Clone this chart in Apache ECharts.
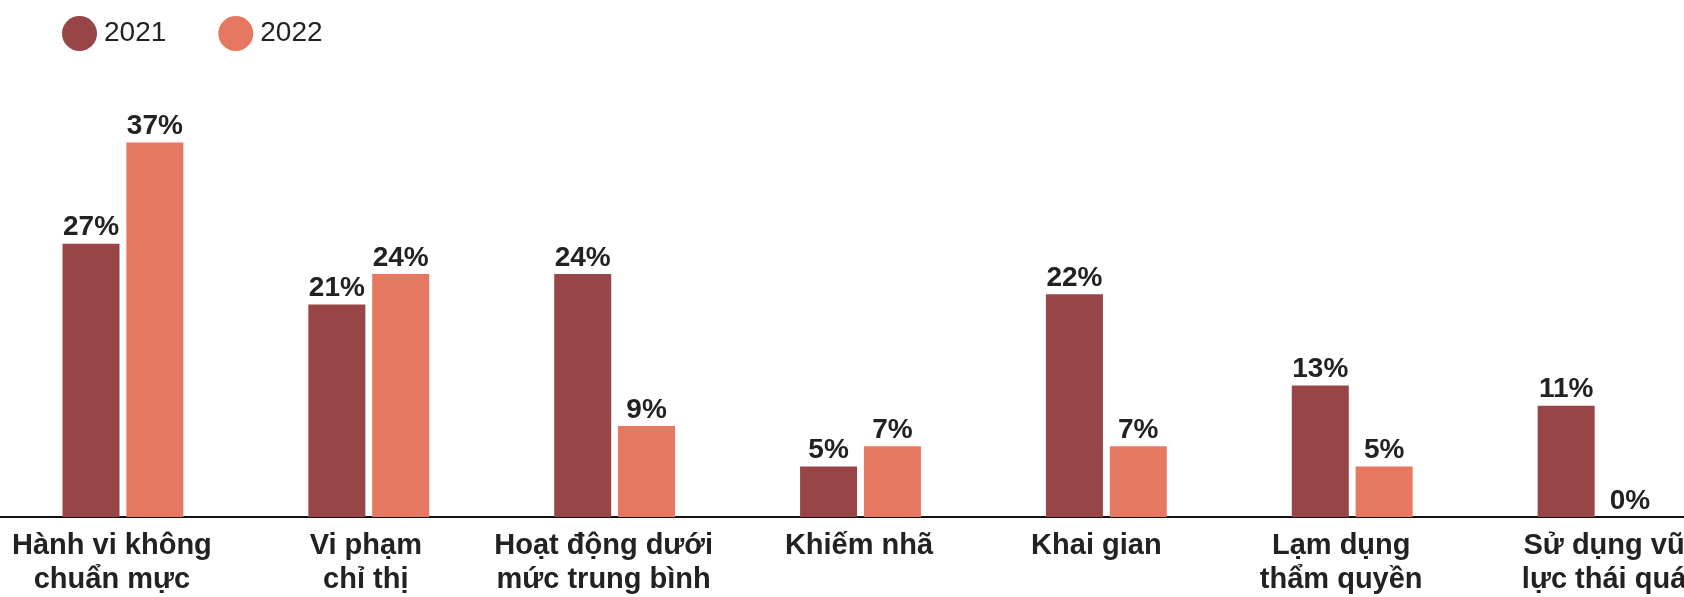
<!DOCTYPE html>
<html>
<head>
<meta charset="utf-8">
<script src="https://cdn.jsdelivr.net/npm/echarts@6/dist/echarts.min.js"></script>
<style>
html,body{margin:0;padding:0;background:#fff;overflow:hidden;}
#chart{width:1730px;height:597px;}
</style>
</head>
<body>
<div id="chart"></div>
<script>
const categories = [
  "Hành vi không\nchuẩn mực",
  "Vi phạm\nchỉ thị",
  "Hoạt động dưới\nmức trung bình",
  "Khiếm nhã",
  "Khai gian",
  "Lạm dụng\nthẩm quyền",
  "Sử dụng vũ\nlực thái quá"
];
const seriesNames = ["2021", "2022"];
const values2021 = [27, 21, 24, 5, 22, 13, 11];
const values2022 = [37, 24, 9, 7, 7, 5, 0];
const colors = ["#974547", "#E67761"];
// horizontal nudges of category labels (px), as seen in the reference
const labelShift = [-11, -3, -11, -1.5, -10, -11, 6];

const categoryData = categories.map(function (c, i) {
  const s = labelShift[i];
  return {
    value: c,
    textStyle: {padding: s < 0 ? [0, -2 * s, 0, 0] : [0, 0, 0, 2 * s]}
  };
});

const chart = echarts.init(document.getElementById('chart'));
const labelStyle = {
  show: true,
  position: 'top',
  distance: 2,
  formatter: '{c}%',
  fontFamily: 'Liberation Sans, Arial, sans-serif',
  fontWeight: 'bold',
  fontSize: 28,
  color: '#222'
};
chart.setOption({
  animation: false,
  color: colors,
  legend: {
    left: 57,
    top: 11,
    icon: 'circle',
    itemWidth: 35,
    itemHeight: 35,
    itemGap: 52,
    textStyle: {
      fontFamily: 'Liberation Sans, Arial, sans-serif',
      fontSize: 28,
      color: '#222',
      padding: [0, 0, 0, 2]
    },
    data: seriesNames
  },
  grid: {left: -1, right: 9, top: 112, bottom: 78, containLabel: false},
  xAxis: {
    type: 'category',
    data: categoryData,
    axisLine: {lineStyle: {color: '#111', width: 2}},
    axisTick: {show: false},
    axisLabel: {
      interval: 0,
      margin: 12,
      fontFamily: 'Liberation Sans, Arial, sans-serif',
      fontWeight: 'bold',
      fontSize: 29,
      lineHeight: 34,
      color: '#222'
    }
  },
  yAxis: {
    type: 'value',
    min: 0,
    max: 40,
    show: false,
    splitLine: {show: false}
  },
  series: [
    {name: seriesNames[0], type: 'bar', data: values2021, barWidth: 57, barGap: '12%', label: labelStyle},
    {name: seriesNames[1], type: 'bar', data: values2022, barWidth: 57, barGap: '12%', label: labelStyle}
  ]
});
</script>
</body>
</html>
